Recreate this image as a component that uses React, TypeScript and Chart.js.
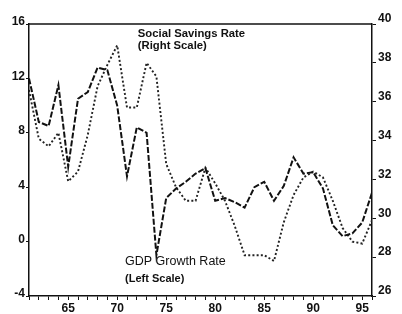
import React, { useEffect, useRef } from "react";
import { Chart, registerables } from "chart.js";

Chart.register(...registerables);

const years = [61, 62, 63, 64, 65, 66, 67, 68, 69, 70, 71, 72, 73, 74, 75, 76, 77, 78, 79, 80, 81, 82, 83, 84, 85, 86, 87, 88, 89, 90, 91, 92, 93, 94, 95, 96];
const gdpGrowth = [12.0, 8.8, 8.5, 11.5, 5.5, 10.5, 11.0, 12.8, 12.6, 10.0, 4.8, 8.4, 8.0, -1.0, 3.2, 3.9, 4.4, 5.0, 5.4, 3.0, 3.2, 2.9, 2.5, 4.0, 4.4, 3.0, 4.1, 6.2, 5.0, 5.1, 3.9, 1.2, 0.4, 0.6, 1.4, 3.6];
const savingsRate = [36.6, 34.1, 33.7, 34.4, 31.9, 32.4, 34.3, 36.8, 37.9, 38.9, 35.7, 35.7, 38.0, 37.3, 32.8, 31.6, 30.9, 30.9, 32.6, 31.8, 30.9, 29.6, 28.1, 28.1, 28.1, 27.8, 29.8, 31.2, 32.1, 32.4, 32.1, 30.9, 29.5, 28.8, 28.7, 29.9];
const xLabels = [65, 70, 75, 80, 85, 90, 95];
const leftTicks = [-4, 0, 4, 8, 12, 16];
const rightTicks = [26, 28, 30, 32, 34, 36, 38, 40];

const FONT = "'Liberation Sans', Arial, sans-serif";
const INK = "#111";

const annotations = {
  id: "annotations",
  afterDraw(chart: any) {
    const { ctx, chartArea, scales } = chart;
    const x = scales.x;
    const yL = scales.yL;
    ctx.save();
    ctx.strokeStyle = INK;
    ctx.lineWidth = 1.5;
    ctx.beginPath();
    ctx.moveTo(chartArea.left, chartArea.top);
    ctx.lineTo(chartArea.right, chartArea.top);
    ctx.stroke();
    ctx.fillStyle = INK;
    ctx.textBaseline = "middle";
    ctx.textAlign = "left";
    ctx.font = `bold 11.3px ${FONT}`;
    ctx.fillText("Social Savings Rate", x.getPixelForValue(72.1), yL.getPixelForValue(15.3));
    ctx.fillText("(Right Scale)", x.getPixelForValue(72.1), yL.getPixelForValue(14.4));
    ctx.font = `12.5px ${FONT}`;
    ctx.fillText("GDP Growth Rate", x.getPixelForValue(70.8), yL.getPixelForValue(-1.5));
    ctx.font = `bold 11px ${FONT}`;
    ctx.fillText("(Left Scale)", x.getPixelForValue(70.8), yL.getPixelForValue(-2.75));
    ctx.restore();
  },
};

export default function App() {
  const ref = useRef<HTMLCanvasElement | null>(null);
  useEffect(() => {
    document.body.style.margin = "0";
    const canvas = ref.current!;
    const chart = new Chart(canvas, {
      type: "line",
      data: {
        datasets: [
          {
            label: "GDP Growth Rate",
            data: years.map((yr, i) => ({ x: yr, y: gdpGrowth[i] })),
            yAxisID: "yL",
            borderColor: INK,
            borderWidth: 2,
            borderDash: [6, 2],
            pointRadius: 0,
            tension: 0,
            fill: false,
          },
          {
            label: "Social Savings Rate",
            data: years.map((yr, i) => ({ x: yr, y: savingsRate[i] })),
            yAxisID: "yR",
            borderColor: "#222",
            borderWidth: 1.9,
            borderDash: [2, 2.2],
            pointRadius: 0,
            tension: 0,
            fill: false,
          },
        ],
      },
      options: {
        animation: false,
        responsive: false,
        maintainAspectRatio: false,
        layout: { padding: { top: 24, left: 0, right: 0, bottom: 0 } },
        plugins: { legend: { display: false }, tooltip: { enabled: false } },
        scales: {
          x: {
            type: "linear",
            min: 61,
            max: 96,
            afterFit: (s: any) => { s.height = 18; },
            afterBuildTicks: (s: any) => {
              s.ticks = years.map((v) => ({ value: v }));
            },
            ticks: {
              autoSkip: false,
              maxRotation: 0,
              padding: 1,
              color: INK,
              font: { family: FONT, size: 12, weight: "bold" },
              callback: (v: any) => (xLabels.includes(Number(v)) ? String(v) : ""),
            },
            grid: { drawOnChartArea: false, drawTicks: true, tickLength: 4, color: INK, lineWidth: 1 },
            border: { display: true, color: INK, width: 1.5 },
          },
          yL: {
            type: "linear",
            position: "left",
            min: -4,
            max: 16,
            afterFit: (s: any) => { s.width = 29; },
            afterBuildTicks: (s: any) => {
              s.ticks = leftTicks.map((v) => ({ value: v }));
            },
            ticks: {
              padding: 1,
              labelOffset: -2,
              color: INK,
              font: { family: FONT, size: 12, weight: "bold" },
            },
            grid: { drawOnChartArea: false, drawTicks: true, tickLength: 3, color: INK },
            border: { display: true, color: INK, width: 1.5 },
          },
          yR: {
            type: "linear",
            position: "right",
            min: 26,
            max: 40,
            afterFit: (s: any) => { s.width = 30; },
            afterBuildTicks: (s: any) => {
              s.ticks = rightTicks.map((v) => ({ value: v }));
            },
            ticks: {
              padding: 2,
              labelOffset: -5,
              color: INK,
              font: { family: FONT, size: 12, weight: "bold" },
            },
            grid: { drawOnChartArea: false, drawTicks: true, tickLength: 4, color: INK },
            border: { display: true, color: INK, width: 1.5 },
          },
        },
      },
      plugins: [annotations],
    });
    return () => chart.destroy();
  }, []);
  return (
    <div style={{ width: 402, height: 314, background: "#fff" }}>
      <canvas ref={ref} width={402} height={314} style={{ width: 402, height: 314, display: "block" }} />
    </div>
  );
}
